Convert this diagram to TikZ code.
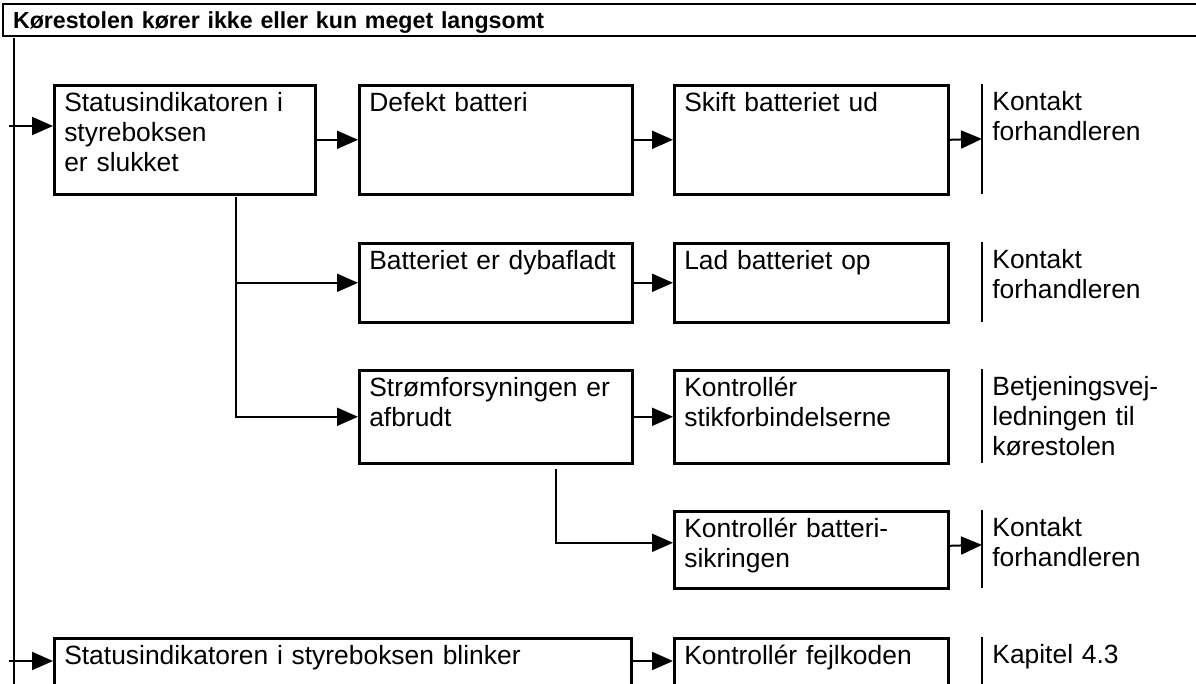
\documentclass[tikz,border=0pt]{standalone}
\usepackage{fontspec}
\setmainfont{Liberation Sans}
\usetikzlibrary{arrows.meta}

\begin{document}
\begin{tikzpicture}[x=0.5pt, y=-0.5pt,
		line/.style={line width=1pt},
		arr/.style={line width=1pt, -{Triangle[length=10.5pt, width=9pt]}},
		box/.style={draw, line width=1.3pt, anchor=north west, inner xsep=5pt, inner ysep=0pt,
			text height=13pt, align=left, font=\fontsize{13.2pt}{15pt}\selectfont},
		info/.style={anchor=north west, inner xsep=5pt, inner ysep=0pt, text height=13pt,
			text width=95pt, align=left, font=\fontsize{13.2pt}{15pt}\selectfont},
		head/.style={draw, line width=1pt, anchor=north west, inner xsep=5pt, inner ysep=0pt,
			text height=12.5pt, text depth=3.5pt, text width=595pt, align=left,
			font=\fontsize{11.6pt}{14pt}\selectfont\bfseries}]
		\useasboundingbox (0,0) rectangle (1196,684);
		\clip (0,0) rectangle (1196,684);

		\node[head] (title) at (2,3) {Kørestolen kører ikke eller kun meget langsomt};
		\coordinate (m0) at (14,38);
		\coordinate (m9) at (14,684);
		\draw[line] (m0) -- (m9);

		% row 1
		\node[box, text width=120.5pt, text depth=41.5pt] (s1) at (53,84) {Statusindikatoren i\\styreboksen\\er slukket};
		\node[box, text width=126.5pt, text depth=41.5pt] (d1) at (358,84) {Defekt batteri};
		\node[box, text width=127pt, text depth=41.5pt] (r1) at (673,84) {Skift batteriet ud};
		\node[info, text depth=41.5pt] (k1) at (982,84) {Kontakt\\forhandleren};

		% row 2
		\node[box, text width=126.5pt, text depth=26.5pt] (p1) at (358,242) {Batteriet er dybafladt};
		\node[box, text width=127pt, text depth=26.5pt] (p2) at (673,242) {Lad batteriet op};
		\node[info, text depth=26.5pt] (k2) at (982,242) {Kontakt\\forhandleren};

		% row 3
		\node[box, text width=126.5pt, text depth=33.5pt] (q1) at (358,369) {Strømforsyningen er\\afbrudt};
		\node[box, text width=127pt, text depth=33.5pt] (q2) at (673,369) {Kontrollér\\stikforbindelserne};
		\node[info, text depth=33.5pt] (k3) at (982,369) {Betjeningsvej-\\ledningen til\\kørestolen};

		% row 4
		\node[box, text width=127pt, text depth=25.5pt] (t1) at (673,510) {Kontrollér batteri-\\sikringen};
		\node[info, text depth=25.5pt] (k4) at (982,510) {Kontakt\\forhandleren};

		% row 5
		\node[box, text width=278.5pt, text depth=40pt] (u1) at (53,637) {Statusindikatoren i styreboksen blinker};
		\node[box, text width=127pt, text depth=40pt] (u2) at (673,637) {Kontrollér fejlkoden};
		\node[info, text depth=40pt] (k5) at (982,637) {Kapitel 4.3};

		\foreach \k in {k1,k2,k3,k4,k5}
			\draw[line] (\k.north west) -- (\k.south west);

		% connectors
		\coordinate (m1) at (9,126);
		\coordinate (m5) at (9,661);
		\coordinate (b1) at (236,197);
		\coordinate (b2) at (556,469);
		\draw[arr] (m1) -- (m1 -| s1.west);
		\draw[arr] (s1.east) -- (d1.west);
		\draw[arr] (d1.east) -- (r1.west);
		\draw[arr] (r1.east) -- (k1.west);
		\draw[line] (b1) -- (b1 |- p1.west);
		\draw[arr] (b1 |- p1.west) -- (p1.west);
		\draw[arr] (b1) |- (q1.west);
		\draw[arr] (p1.east) -- (p2.west);
		\draw[arr] (q1.east) -- (q2.west);
		\draw[arr] (b2) |- ([yshift=3.5pt]t1.west);
		\draw[arr] ([yshift=2pt]t1.east) -- ([yshift=2pt]k4.west);
		\draw[arr] (m5) -- (m5 -| u1.west);
		\draw[arr] ([yshift=-12pt]u1.north east) -- ([yshift=-12pt]u2.north west);
\end{tikzpicture}
\end{document}
